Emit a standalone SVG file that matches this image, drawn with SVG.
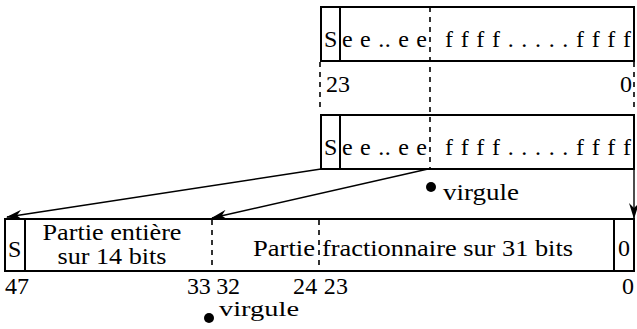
<svg xmlns="http://www.w3.org/2000/svg" width="637" height="329" viewBox="0 0 637 329">
<style>
text{font-family:"Liberation Serif","Times New Roman",serif;font-size:24px;fill:#000}
.box{fill:none;stroke:#000;stroke-width:2}
.dash{fill:none;stroke:#000;stroke-width:1.6;stroke-dasharray:5 5}
.arr{fill:none;stroke:#000;stroke-width:1.4;marker-end:url(#ah)}
</style>
<defs>
<marker id="ah" viewBox="0 0 16 10" refX="15" refY="5" markerWidth="16" markerHeight="10" markerUnits="userSpaceOnUse" orient="auto">
<path d="M0,0 L16,5 L0,10 L5,5 z" fill="#000"/>
</marker>
</defs>
<rect width="637" height="329" fill="#fff"/>
<g id="float-in">
<rect class="box" x="321" y="7" width="313" height="54"/>
<line class="box" x1="340" y1="7" x2="340" y2="61"/>
<text x="324" y="47">S</text>
<text x="342" y="47" textLength="85" lengthAdjust="spacing">e e .. e e</text>
<text x="445" y="47" textLength="186" lengthAdjust="spacing">f f f f . . . . . f f f f</text>
</g>
<g id="bit-index-top">
<line class="dash" x1="320" y1="62" x2="320" y2="108"/>
<line class="dash" x1="634" y1="62" x2="634" y2="108"/>
<text x="326" y="92">23</text>
<text x="620" y="92">0</text>
</g>
<g id="float-copy">
<rect class="box" x="321" y="115" width="313" height="54"/>
<line class="box" x1="340" y1="115" x2="340" y2="169"/>
<text x="324" y="155">S</text>
<text x="342" y="155" textLength="85" lengthAdjust="spacing">e e .. e e</text>
<text x="445" y="155" textLength="186" lengthAdjust="spacing">f f f f . . . . . f f f f</text>
</g>
<g id="virgule-top">
<circle cx="431" cy="187" r="5"/>
<text x="443" y="200" textLength="76" lengthAdjust="spacingAndGlyphs">virgule</text>
</g>
<g id="fixed-48">
<rect class="box" x="5" y="219" width="629" height="52"/>
<line class="box" x1="25" y1="219" x2="25" y2="271"/>
<line class="box" x1="614" y1="219" x2="614" y2="271"/>
<line class="dash" x1="212" y1="220" x2="212" y2="268"/>
<line class="dash" x1="319" y1="220" x2="319" y2="268"/>
<text x="8" y="257">S</text>
<text x="112" y="240" text-anchor="middle" textLength="139" lengthAdjust="spacingAndGlyphs">Partie entière</text>
<text x="112" y="264" text-anchor="middle" textLength="109" lengthAdjust="spacingAndGlyphs">sur 14 bits</text>
<text x="253" y="256" textLength="62" lengthAdjust="spacingAndGlyphs">Partie</text>
<text x="322" y="256" textLength="251" lengthAdjust="spacingAndGlyphs">fractionnaire sur 31 bits</text>
<text x="618" y="256">0</text>
</g>
<g id="bit-index-bottom">
<text x="5" y="294">47</text>
<text x="187" y="294" textLength="53" lengthAdjust="spacing">33 32</text>
<text x="293" y="294" textLength="55" lengthAdjust="spacing">24 23</text>
<text x="622" y="294">0</text>
</g>
<g id="virgule-bottom">
<circle cx="209" cy="318" r="5"/>
<text x="219" y="316" style="font-size:22px" textLength="80" lengthAdjust="spacingAndGlyphs">virgule</text>
</g>
<g id="connectors">
<line class="dash" x1="430" y1="7" x2="430" y2="169"/>
<line class="arr" x1="321" y1="169" x2="7" y2="217"/>
<line class="arr" x1="428" y1="169" x2="212" y2="218"/>
<line class="arr" x1="634" y1="169" x2="634" y2="218"/>
</g>
</svg>
